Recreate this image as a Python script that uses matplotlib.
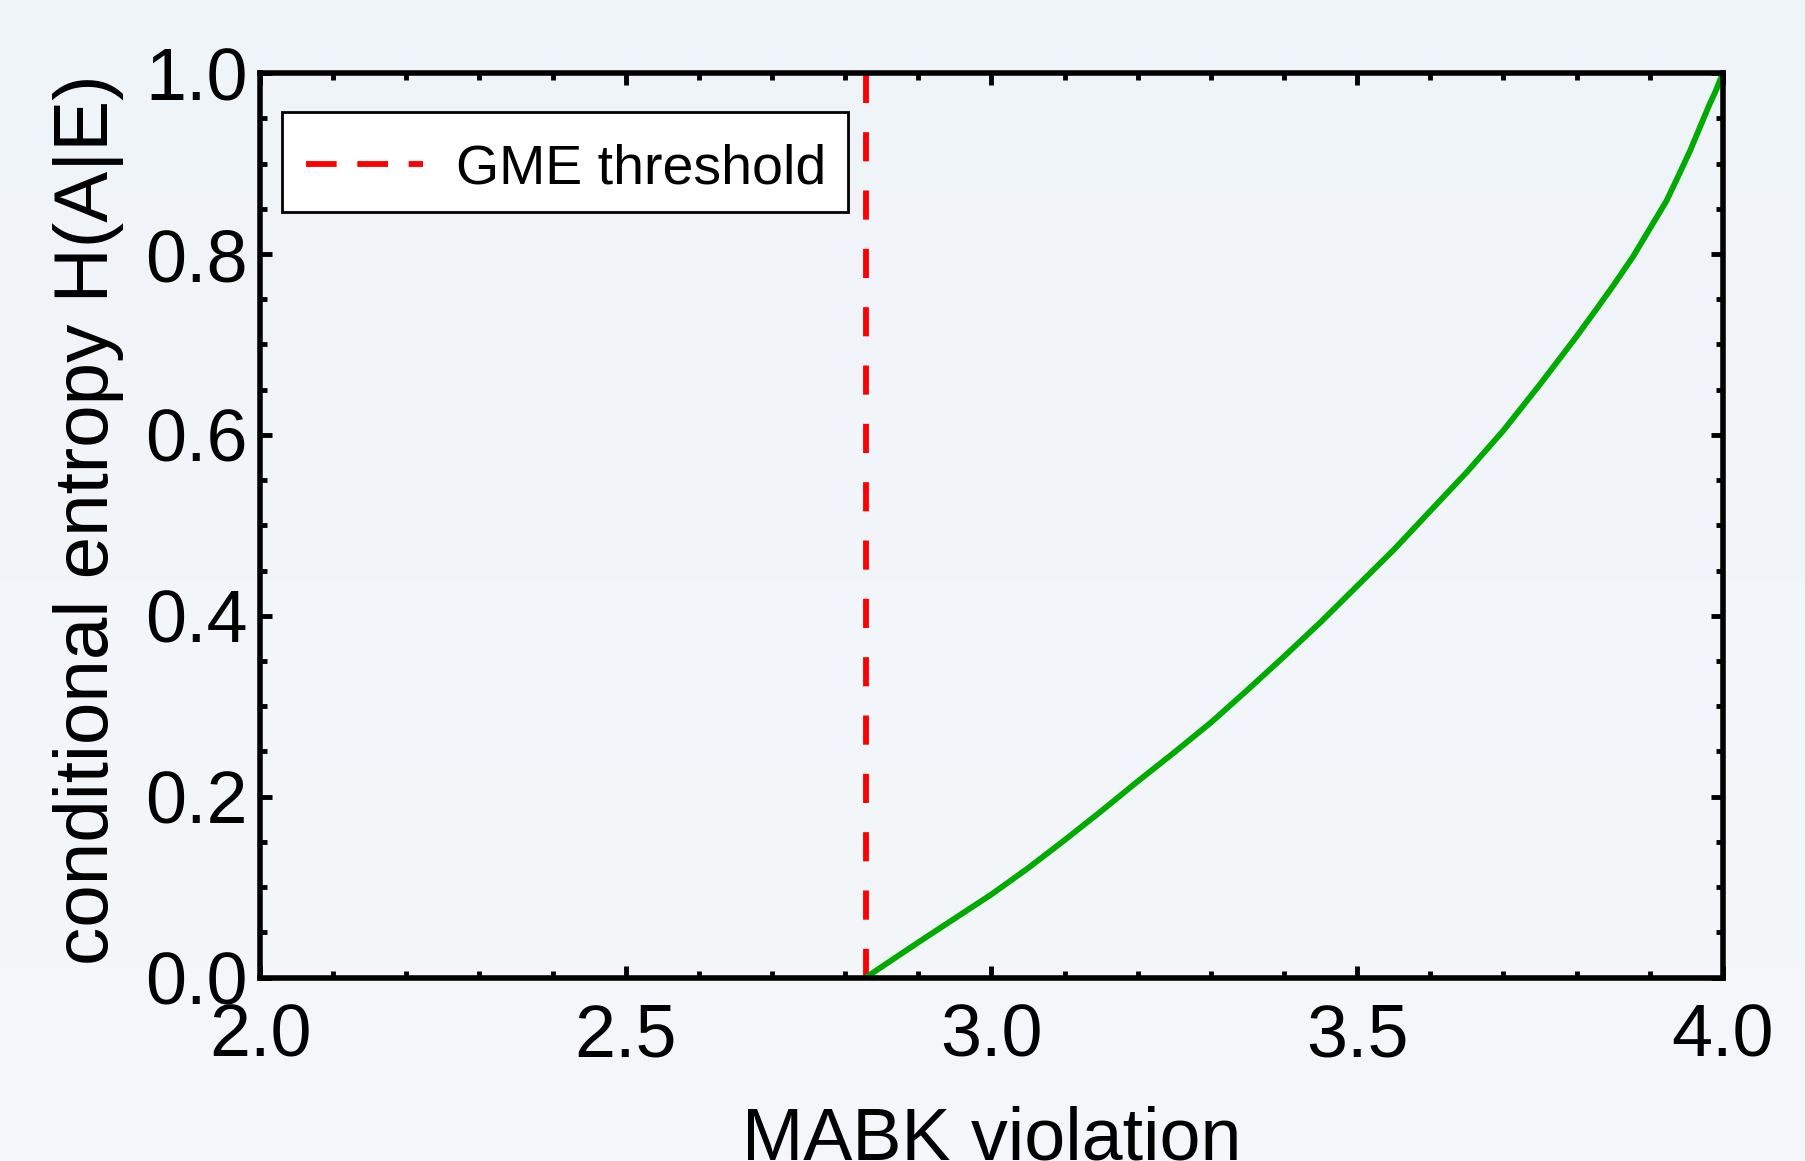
import numpy as np
import matplotlib.pyplot as plt
from matplotlib.lines import Line2D
from matplotlib.patches import Rectangle
from matplotlib.ticker import MultipleLocator

# MABK violation vs conditional entropy
mabk = [2.828, 2.90, 2.95, 3.00, 3.05, 3.10, 3.15, 3.20, 3.25, 3.30, 3.35,
        3.40, 3.45, 3.50, 3.55, 3.60, 3.65, 3.70, 3.75, 3.80, 3.827, 3.85,
        3.877, 3.90, 3.923, 3.94, 3.955, 3.97, 3.982, 3.99, 3.995, 4.00]
entropy = [0.0, 0.039, 0.0655, 0.092, 0.121, 0.152, 0.184, 0.217, 0.249,
           0.282, 0.318, 0.355, 0.393, 0.433, 0.473, 0.516, 0.559, 0.605,
           0.656, 0.709, 0.739, 0.765, 0.797, 0.828, 0.859, 0.888, 0.914,
           0.943, 0.966, 0.980, 0.990, 1.0]
gme_threshold = 2.828
legend_label = "GME threshold"

x_ticks = [2.0, 2.5, 3.0, 3.5, 4.0]
y_ticks = [0.0, 0.2, 0.4, 0.6, 0.8, 1.0]

plt.rcParams['font.family'] = ['Liberation Sans', 'DejaVu Sans']

fig = plt.figure(figsize=(18.06, 11.61), dpi=100)

# soft background gradient over the whole figure
bg = fig.add_axes([0, 0, 1, 1], zorder=-10)
top_col = np.array([239, 244, 249]) / 255
bot_col = np.array([245, 247, 250]) / 255
t = np.linspace(0, 1, 256)[:, None, None]
grad = top_col * (1 - t) + bot_col * t
bg.imshow(np.repeat(grad, 2, axis=1), aspect='auto', extent=[0, 1, 0, 1])
bg.axis('off')

ax = fig.add_axes([0.144, 0.158, 0.810, 0.779])
ax.set_facecolor('none')

ax.axvline(gme_threshold, 0, 1, color='#ff0000', lw=4.2, dashes=(5.0, 5.0))
ax.plot(mabk, entropy, color='#00aa00', lw=4.2, solid_joinstyle='round')

ax.set_xlim(2.0, 4.0)
ax.set_ylim(0.0, 1.0)
ax.set_xticks(x_ticks)
ax.set_yticks(y_ticks)
ax.set_xticklabels([f"{v:.1f}" for v in x_ticks])
ax.set_yticklabels([f"{v:.1f}" for v in y_ticks])
ax.xaxis.set_minor_locator(MultipleLocator(0.1))
ax.yaxis.set_minor_locator(MultipleLocator(0.05))

for s in ax.spines.values():
    s.set_linewidth(4)
ax.tick_params(which='both', direction='in', top=True, right=True, width=3.5)
ax.tick_params(which='major', length=8.7, labelsize=53)
ax.tick_params(which='minor', length=5.3)
ax.tick_params(axis='x', which='major', pad=18)
ax.tick_params(axis='y', which='major', pad=9)

ax.set_xlabel("MABK violation", fontsize=53)
ax.xaxis.set_label_coords(0.5, -0.142)
ax.set_ylabel("conditional entropy H(A|E)", fontsize=55)
ax.yaxis.set_label_coords(-0.093, 0.506)

# legend frame drawn by hand so the entry can sit a little low in the box
ax.add_patch(Rectangle((0.0147, 0.8468), 0.3872, 0.1106, transform=ax.transAxes,
                       facecolor='white', edgecolor='black', lw=2, zorder=4.5))
handle = Line2D([], [], color='#ff0000', lw=4.2, dashes=(5.25, 3.55))
leg = ax.legend([handle], [legend_label], loc='center left',
                bbox_to_anchor=(0.0313, 0.8933), borderaxespad=0, borderpad=0,
                fontsize=40, handlelength=2.1, handletextpad=0.6,
                frameon=False)

fig.savefig("out.png", dpi=100)
